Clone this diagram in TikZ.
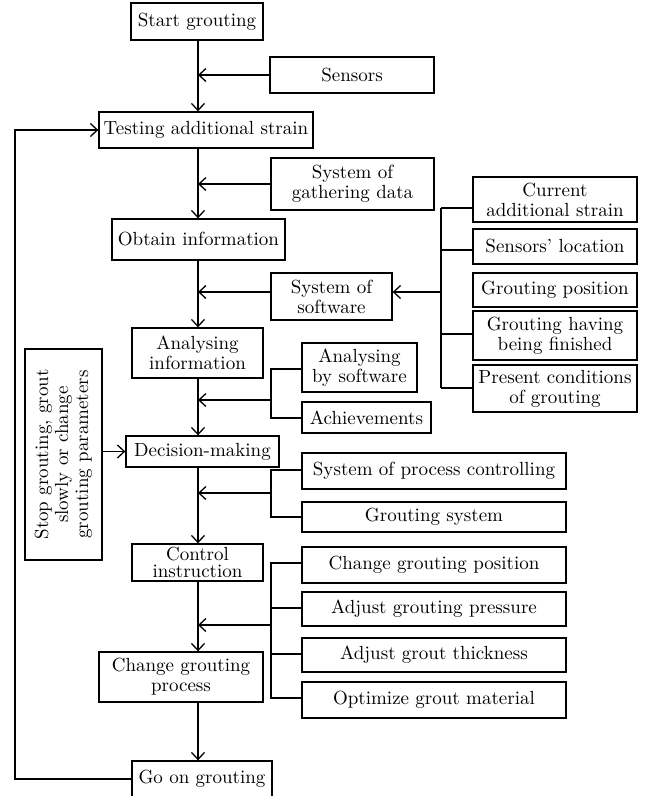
\documentclass[tikz,border=0pt]{standalone}
\usepackage{fontspec}
\setmainfont{lmroman10-regular}[Extension=.otf]
\usetikzlibrary{arrows.meta,calc}
\begin{document}
\begin{tikzpicture}[x=1pt,y=-1pt,
  box/.style={draw, line width=1.3pt, inner sep=0pt, align=center,
    font=\fontsize{19}{20}\selectfont},
  ln/.style={line width=1.3pt},
  arr/.style={line width=1.3pt, -{Straight Barb[length=7pt,width=13pt,line width=1.3pt]}}]
\useasboundingbox (0,0) rectangle (651,796);
% main column
\node[box, minimum width=132, minimum height=37] (start) at (197,21.5) {Start grouting};
\node[box, minimum width=214, minimum height=36] (testing) at (206,130) {Testing additional strain};
\node[box, minimum width=173, minimum height=41] (obtain) at (198.5,239.5) {Obtain information};
\node[box, minimum width=131, minimum height=50] (anainfo) at (197.5,353) {Analysing\\information};
\node[box, minimum width=153, minimum height=31] (decision) at (202.5,451.5) {Decision-making};
\node[box, minimum width=131, minimum height=37, font=\fontsize{19}{17.5}\selectfont] (control) at (197.5,562.5) {Control\\instruction};
\node[box, minimum width=164, minimum height=50] (cgproc) at (181,677) {Change grouting\\process};
\node[box, minimum width=140, minimum height=36] (goon) at (202,779) {Go on grouting};
% left
\node[box, minimum width=211, minimum height=77, rotate=90] (stop) at (63.5,454.5) {Stop grouting, grout\\slowly or change\\grouting parameters};
% inputs
\node[box, minimum width=164, minimum height=36] (sensors) at (352,75) {Sensors};
\node[box, minimum width=163, minimum height=52] (gather) at (352.5,184) {System of\\gathering data};
\node[box, minimum width=121, minimum height=47] (software) at (331.5,296.5) {System of\\software};
\node[box, minimum width=164, minimum height=45] (current) at (555,199.5) {Current\\additional strain};
\node[box, minimum width=164, minimum height=35] (sloc) at (555,246.5) {Sensors' location};
\node[box, minimum width=164, minimum height=34] (gpos) at (555,290) {Grouting position};
\node[box, minimum width=164, minimum height=49] (gfin) at (555,335.5) {Grouting having\\being finished};
\node[box, minimum width=164, minimum height=47] (pres) at (555,388.5) {Present conditions\\of grouting};
\node[box, minimum width=115, minimum height=49] (anasoft) at (359.5,367.5) {Analysing\\by software};
\node[box, minimum width=129, minimum height=31] (achieve) at (366.5,417.5) {Achievements};
\node[box, minimum width=264, minimum height=36] (spc) at (434,471) {System of process controlling};
\node[box, minimum width=264, minimum height=30] (gsys) at (434,517) {Grouting system};
\node[box, minimum width=264, minimum height=36] (cgp) at (434,565) {Change grouting position};
\node[box, minimum width=264, minimum height=34] (agp) at (434,609) {Adjust grouting pressure};
\node[box, minimum width=264, minimum height=34] (agt) at (434,655) {Adjust grout thickness};
\node[box, minimum width=264, minimum height=36] (ogm) at (434,700) {Optimize grout material};
% coordinates
\coordinate (M) at (198,0);
\coordinate (L) at (15,0);
\coordinate (ja) at (198,75);
\coordinate (jb) at (198,184);
\coordinate (jc) at (198,292);
\coordinate (jd) at (198,400);
\coordinate (je) at (198,493);
\coordinate (jf) at (198,625);
\coordinate (bs) at (441,292);
\coordinate (bs1) at (441,208);
\coordinate (bs2) at (441,250);
\coordinate (bs3) at (441,334);
\coordinate (bs4) at (441,388);
\coordinate (ba) at (271,400);
\coordinate (ba1) at (271,369);
\coordinate (ba2) at (271,418);
\coordinate (bd) at (271,493);
\coordinate (bd1) at (271,470);
\coordinate (bd2) at (271,517);
\coordinate (bc) at (271,625);
\coordinate (bc1) at (271,563);
\coordinate (bc2) at (271,608);
\coordinate (bc3) at (271,654);
\coordinate (bc4) at (271,698);
% main flow
\draw[arr] (start.south -| M) -- (testing.north -| M);
\draw[arr] (testing.south -| M) -- (obtain.north -| M);
\draw[arr] (obtain.south -| M) -- (anainfo.north -| M);
\draw[arr] (anainfo.south -| M) -- (decision.north -| M);
\draw[arr] (decision.south -| M) -- (control.north -| M);
\draw[arr] (control.south -| M) -- (cgproc.north -| M);
\draw[arr] (cgproc.south -| M) -- (goon.north -| M);
% side inputs
\draw[arr] (sensors.west |- ja) -- (ja);
\draw[arr] (gather.west |- jb) -- (jb);
\draw[arr] (software.west |- jc) -- (jc);
\draw[arr] (ba) -- (jd);
\draw[arr] (bd) -- (je);
\draw[arr] (bc) -- (jf);
% software bracket
\draw[ln] (bs1) -- (bs4);
\draw[ln] (bs1) -- (bs1 -| current.west);
\draw[ln] (bs2) -- (bs2 -| sloc.west);
\draw[ln] (bs3) -- (bs3 -| gfin.west);
\draw[ln] (bs4) -- (bs4 -| pres.west);
\draw[arr] (bs) -- (bs -| software.east);
% analysing bracket
\draw[ln] (ba1 -| anasoft.west) -- (ba1) -- (ba2) -- (ba2 -| achieve.west);
% decision bracket
\draw[ln] (bd1 -| spc.west) -- (bd1) -- (bd2) -- (bd2 -| gsys.west);
% control bracket
\draw[ln] (bc1 -| cgp.west) -- (bc1) -- (bc4) -- (bc4 -| ogm.west);
\draw[ln] (bc2) -- (bc2 -| agp.west);
\draw[ln] (bc3) -- (bc3 -| agt.west);
% stop arrow
\draw[arr] (stop.south |- decision.west) -- (decision.west);
% loop
\draw[arr] (goon.west) -- (goon.west -| L) -- (testing.west -| L) -- (testing.west);
\end{tikzpicture}
\end{document}
